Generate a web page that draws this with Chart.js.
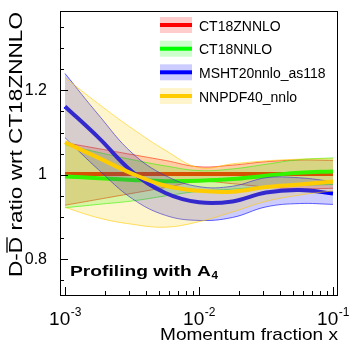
<!DOCTYPE html>
<html>
<head>
<meta charset="utf-8">
<script src="https://cdn.jsdelivr.net/npm/chart.js@4.4.1/dist/chart.umd.min.js"></script>
<style>
  html, body { margin: 0; padding: 0; background: #fff; }
  #wrap { width: 349px; height: 349px; }
</style>
</head>
<body>
<div id="wrap"><canvas id="chart" width="349" height="349"></canvas></div>
<script>
// --- Data ---
const xValues = [0.001, 0.00178, 0.00316, 0.00562, 0.01, 0.0178, 0.0316, 0.0562, 0.1];

const seriesNames = ['CT18ZNNLO', 'CT18NNLO', 'MSHT20nnlo_as118', 'NNPDF40_nnlo'];
const seriesColors = ['255,0,0', '0,255,0', '0,0,255', '255,204,0'];

const ct18zCentral = [1.002, 1.002, 1.002, 1.002, 1.002, 1.002, 1.002, 1.002, 1.002];
const ct18zUpper   = [1.076, 1.062, 1.048, 1.034, 1.019, 1.023, 1.031, 1.035, 1.034];
const ct18zLower   = [0.928, 0.942, 0.956, 0.970, 0.984, 0.979, 0.971, 0.967, 0.968];

const ct18Central = [0.996, 0.992, 0.988, 0.985, 0.986, 0.990, 0.998, 1.005, 1.008];
const ct18Upper   = [1.071, 1.053, 1.036, 1.021, 1.010, 1.014, 1.025, 1.036, 1.040];
const ct18Lower   = [0.922, 0.930, 0.938, 0.950, 0.961, 0.966, 0.972, 0.975, 0.977];

const mshtCentral = [1.162, 1.088, 1.008, 0.957, 0.935, 0.937, 0.958, 0.964, 0.956];
const mshtUpper   = [1.240, 1.142, 1.052, 0.998, 0.972, 0.973, 0.993, 0.993, 0.984];
const mshtLower   = [1.088, 1.012, 0.944, 0.904, 0.892, 0.899, 0.924, 0.932, 0.930];

const nnpdfCentral = [1.077, 1.040, 1.003, 0.974, 0.962, 0.960, 0.971, 0.977, 0.984];
const nnpdfUpper   = [1.230, 1.168, 1.110, 1.058, 1.017, 1.026, 1.033, 1.037, 1.038];
const nnpdfLower   = [0.923, 0.898, 0.883, 0.876, 0.889, 0.912, 0.937, 0.952, 0.962];

const yTickValues = [0.8, 1.0, 1.2];
const yTickLabels = ['0.8', '1', '1.2'];
const xTickValues = [0.001, 0.01, 0.1];
const xTickExps = ['-3', '-2', '-1'];

const xTitle = 'Momentum fraction x';
const yTitle = 'D-D ratio wrt CT18ZNNLO';   // second D carries an overline
const plotNote = 'Profiling with A';
const plotNoteSub = '4';

Chart.defaults.font.family = "'Liberation Sans', Arial, sans-serif";

// --- Build datasets: band (upper filled to lower) + central line per series ---
const bands = [
  [ct18zUpper, ct18zLower, ct18zCentral],
  [ct18Upper, ct18Lower, ct18Central],
  [mshtUpper, mshtLower, mshtCentral],
  [nnpdfUpper, nnpdfLower, nnpdfCentral]
];
const toPoints = arr => arr.map((v, i) => ({ x: xValues[i], y: v }));

const datasets = [];
bands.forEach((b, s) => {
  const c = seriesColors[s];
  const base = (bands.length - s) * 3; // higher order is drawn first
  datasets.push({
    label: seriesNames[s] + ' upper', data: toPoints(b[0]),
    borderColor: `rgba(${c},0.6)`, borderWidth: 1,
    backgroundColor: `rgba(${c},0.2)`, fill: '+1', order: base
  });
  datasets.push({
    label: seriesNames[s] + ' lower', data: toPoints(b[1]),
    borderColor: `rgba(${c},0.6)`, borderWidth: 1, fill: false, order: base - 1
  });
  datasets.push({
    label: seriesNames[s], data: toPoints(b[2]),
    borderColor: `rgb(${c})`, borderWidth: 4, fill: false, order: base - 2
  });
});

// draw text stretched along its own direction
function stretchedText(ctx, text, x, y, target) {
  const w = ctx.measureText(text).width;
  const sx = target ? target / w : 1;
  ctx.save();
  ctx.translate(x, y);
  ctx.scale(sx, 1);
  ctx.fillText(text, 0, 0);
  ctx.restore();
  return w * sx;
}

const rootStyle = {
  id: 'rootStyle',
  afterDraw(chart) {
    const { ctx, chartArea: a, scales: { x, y } } = chart;
    const fam = "'Liberation Sans', Arial, sans-serif";
    ctx.save();

    // frame
    ctx.strokeStyle = '#000';
    ctx.lineWidth = 1;
    ctx.strokeRect(a.left + 0.5, a.top + 0.5, a.right - a.left - 1, a.bottom - a.top - 1);

    // y ticks (inside)
    ctx.beginPath();
    for (let k = 15; k <= 27; k++) {
      const v = k * 0.05;
      const py = Math.round(y.getPixelForValue(v)) + 0.5;
      const major = k % 4 === 0;
      ctx.moveTo(a.left, py);
      ctx.lineTo(a.left + (major ? 8 : 4), py);
    }
    // x ticks (inside)
    for (let d = -3; d <= -1; d++) {
      for (let m = 1; m <= 9; m++) {
        const v = m * Math.pow(10, d);
        if (v < x.min || v > x.max) continue;
        const px = Math.round(x.getPixelForValue(v)) + 0.5;
        ctx.moveTo(px, a.bottom);
        ctx.lineTo(px, a.bottom - (m === 1 ? 9 : 5));
      }
    }
    ctx.stroke();

    // x tick labels 10^n
    ctx.fillStyle = '#000';
    ctx.textBaseline = 'alphabetic';
    xTickValues.forEach((v, i) => {
      ctx.font = `19px ${fam}`;
      const wb = ctx.measureText('10').width;
      ctx.font = `12px ${fam}`;
      const we = ctx.measureText(xTickExps[i]).width;
      const x0 = x.getPixelForValue(v) - (wb + we) / 2;
      ctx.font = `19px ${fam}`;
      ctx.fillText('10', x0, 325);
      ctx.font = `12px ${fam}`;
      ctx.fillText(xTickExps[i], x0 + wb + 0.5, 316);
    });

    // x title, right aligned to axis end
    ctx.font = `17px ${fam}`;
    stretchedText(ctx, xTitle, a.right - 178, 340, 178);

    // y title, rotated, ending at top
    ctx.save();
    ctx.translate(22, 12);
    ctx.rotate(-Math.PI / 2);
    ctx.font = `18px ${fam}`;
    const natural = ctx.measureText(yTitle).width;
    const sx = 265 / natural;
    stretchedText(ctx, yTitle, -265, 0, 265);
    const d0 = ctx.measureText('D-').width * sx - 265;
    const d1 = ctx.measureText('D-D').width * sx - 265;
    ctx.lineWidth = 1.3;
    ctx.beginPath();
    ctx.moveTo(d0 + 0.5, -15);
    ctx.lineTo(d1 - 0.5, -15);
    ctx.stroke();
    ctx.restore();

    // annotation
    ctx.font = `bold 15.5px ${fam}`;
    const wn = stretchedText(ctx, plotNote, 70, 276, 141);
    ctx.font = `bold 10.5px ${fam}`;
    stretchedText(ctx, plotNoteSub, 70 + wn + 0.5, 279, 6.5);

    // legend
    const rowY = [25, 48.7, 72.3, 96];
    seriesNames.forEach((name, i) => {
      const c = seriesColors[i];
      ctx.fillStyle = `rgba(${c},0.2)`;
      ctx.fillRect(160, rowY[i] - 8, 32, 16);
      ctx.strokeStyle = `rgb(${c})`;
      ctx.lineWidth = 4;
      ctx.beginPath();
      ctx.moveTo(160, rowY[i]);
      ctx.lineTo(192, rowY[i]);
      ctx.stroke();
      ctx.fillStyle = '#000';
      ctx.font = `14px ${fam}`;
      ctx.fillText(name, 199, rowY[i] + 5.5);
    });

    ctx.restore();
  }
};

new Chart(document.getElementById('chart'), {
  type: 'line',
  data: { datasets },
  options: {
    responsive: false,
    animation: false,
    layout: { padding: { top: 11, right: 11, left: 0, bottom: 0 } },
    elements: { point: { radius: 0 }, line: { tension: 0.4 } },
    plugins: { legend: { display: false }, tooltip: { enabled: false } },
    scales: {
      x: {
        type: 'logarithmic', min: 0.000918, max: 0.109,
        grid: { display: false }, border: { display: false },
        ticks: { display: false },
        afterFit(s) { s.height = 53; s.paddingLeft = 0; s.paddingRight = 0; }
      },
      y: {
        min: 0.713, max: 1.388,
        grid: { display: false }, border: { display: false },
        afterBuildTicks(s) { s.ticks = yTickValues.map(v => ({ value: v })); },
        ticks: { callback: (v, i) => yTickLabels[i], font: { size: 16 }, color: '#000', padding: 5 },
        afterFit(s) { s.width = 60; s.paddingTop = 0; s.paddingBottom = 0; }
      }
    }
  },
  plugins: [rootStyle]
});
</script>
</body>
</html>
